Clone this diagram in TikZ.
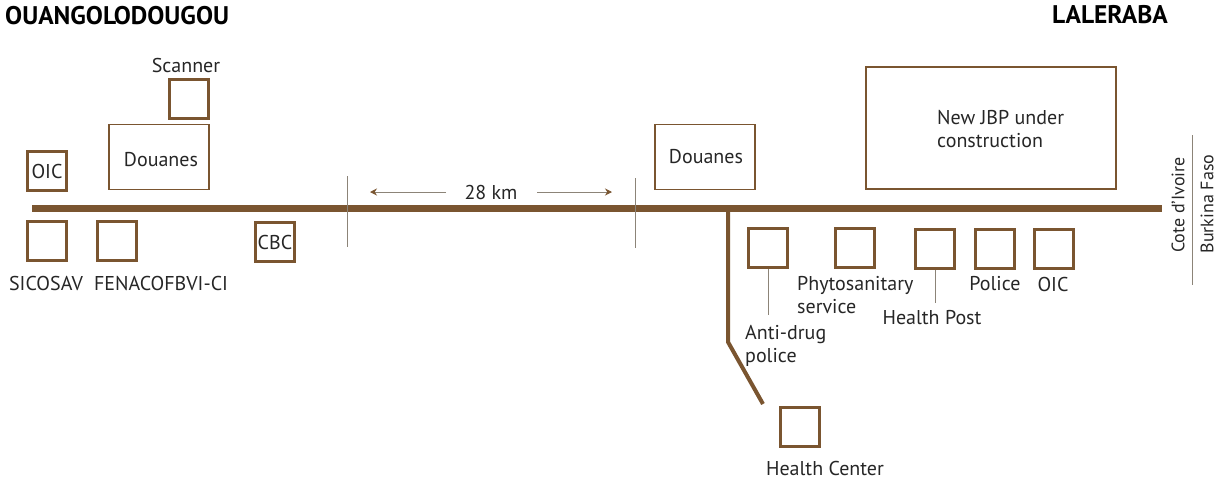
\documentclass[tikz,border=0pt]{standalone}
\usepackage{fontspec}
\setmainfont{PT Sans}
\usetikzlibrary{arrows.meta}
\definecolor{brn}{HTML}{7A5530}
\definecolor{gry}{HTML}{8C8478}
\begin{document}
\begin{tikzpicture}[x=1pt,y=-1pt,
  sq/.style={draw=brn,line width=3pt,minimum width=39pt,minimum height=39pt,inner sep=0pt},
  bld/.style={draw=brn,line width=1.6pt,inner sep=0pt},
  lbl/.style={font=\fontsize{20}{23}\selectfont,inner sep=0pt,text=black!85},
  side/.style={font=\fontsize{18}{21}\selectfont,inner sep=0pt,text=black!85,rotate=90},
  ttl/.style={font=\fontsize{25.5}{28}\selectfont\bfseries,inner sep=0pt},
  road/.style={draw=brn,line width=7pt},
  branch/.style={draw=brn,line width=4pt},
  thin/.style={draw=gry,line width=1pt},
  dim/.style={draw=gry,line width=1pt,-{Stealth[length=7pt,width=7pt,color=brn]}}]
\useasboundingbox (0,0) rectangle (1219,480);
% titles
\node[ttl,anchor=west] (tL) at (5,16) {OUANGOLODOUGOU};
\node[ttl,anchor=west] (tR) at (1052,15) {LALERABA};
% road
\coordinate (rL) at (32,208);
\coordinate (rR) at (1162,208);
\draw[road] (rL) -- (rR);
% branch
\coordinate (b0) at (728,208);
\coordinate (b1) at (728,342);
\coordinate (b2) at (763,404);
\draw[branch,line join=round] (b0) -- (b1) -- (b2);
% left side
\node[lbl] (scanL) at (186,65) {Scanner};
\node[sq] (scan) at (189,99) {};
\node[bld,minimum width=100pt,minimum height=65pt] (douL) at (159,157) {};
\node[lbl] (douLt) at (161,160) {Douanes};
\node[sq] (oicL) at (47,171) {};
\node[lbl] at (oicL) (oicLt) {OIC};
\node[sq] (sico) at (47,241) {};
\node[lbl] (sicoL) at (46,283) {SICOSAV};
\node[sq] (fena) at (117,241) {};
\node[lbl] (fenaL) at (161,283) {FENACOFBVI-CI};
\node[sq] (cbc) at (275,242) {};
\node[lbl] at (cbc) (cbcL) {CBC};
% 28 km
\coordinate (t1a) at (347,176); \coordinate (t1b) at (347,247);
\coordinate (t2a) at (635,178); \coordinate (t2b) at (635,248);
\draw[thin] (t1a) -- (t1b);
\draw[thin] (t2a) -- (t2b);
\node[lbl] (km) at (491,192) {28 km};
\coordinate (a1s) at (446,192); \coordinate (a1e) at (370,192);
\coordinate (a2s) at (537,192); \coordinate (a2e) at (612,192);
\draw[dim] (a1s) -- (a1e);
\draw[dim] (a2s) -- (a2e);
% right side
\node[bld,minimum width=100pt,minimum height=65pt] (douR) at (705,157) {};
\node[lbl] (douRt) at (706,157) {Douanes};
\node[bld,minimum width=250pt,minimum height=122pt] (jbp) at (991,128) {};
\node[lbl,anchor=west,align=left] (jbpL) at (937,129) {New JBP under\\construction};
\node[sq] (anti) at (768,248) {};
\coordinate (antiE) at (768,315);
\draw[thin] (anti.south) -- (antiE);
\node[lbl,anchor=west,align=left] (antiL) at (745,346) {Anti-drug\\police};
\node[sq] (phyto) at (855,248) {};
\node[lbl,anchor=west,align=left] (phytoL) at (797,295) {Phytosanitary\\service};
\node[sq] (hpost) at (935,249) {};
\coordinate (hpostE) at (935,303);
\draw[thin] (hpost.south) -- (hpostE);
\node[lbl] (hpostL) at (932,318) {Health Post};
\node[sq] (pol) at (995,249) {};
\node[lbl] (polL) at (995,284) {Police};
\node[sq] (oicR) at (1054,249) {};
\node[lbl] (oicRL) at (1053,284) {OIC};
\node[sq] (hc) at (800,427) {};
\node[lbl] (hcL) at (825,468) {Health Center};
% border
\coordinate (bd1) at (1192,135); \coordinate (bd2) at (1192,285);
\draw[thin] (bd1) -- (bd2);
\node[side] (ci) at (1178,205) {Cote d'Ivoire};
\node[side] (bf) at (1207,204) {Burkina Faso};
\end{tikzpicture}
\end{document}
